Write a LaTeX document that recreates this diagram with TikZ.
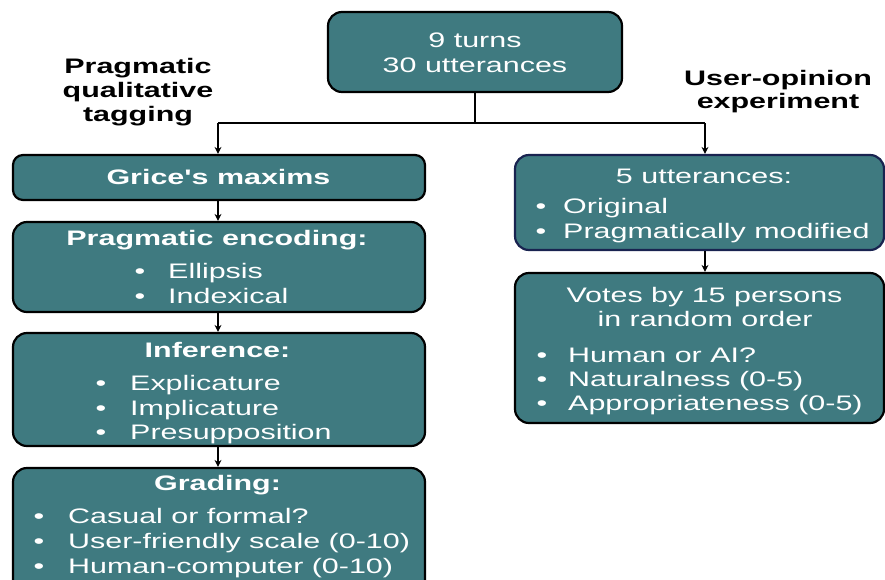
\documentclass[tikz,border=0pt]{standalone}
\usepackage{fontspec}
\usepackage{graphicx}
\setmainfont{Liberation Sans}
\usetikzlibrary{arrows.meta}
\definecolor{teal1}{RGB}{63,122,128}
\definecolor{navy1}{RGB}{25,35,80}
\newcommand{\sx}[1]{\scalebox{1.45}[1]{#1}}
\begin{document}
\begin{tikzpicture}[x=1pt,y=-1pt,
  box/.style={draw=black, line width=2.2pt, fill=teal1, rounded corners=14pt, inner sep=0pt},
  txt/.style={font=\fontsize{21}{25}\selectfont, text=white, inner sep=0pt},
  lbl/.style={font=\fontsize{21}{25}\selectfont\bfseries, text=black, inner sep=0pt},
  conn/.style={line width=2.2pt, draw=black},
  arr/.style={conn, -{Stealth[length=7pt,width=7pt]}}]
\useasboundingbox (0,0) rectangle (885,579);
% boxes
\node[box, minimum width=294pt, minimum height=80pt] (top) at (475,52) {};
\node[box, rounded corners=10pt, minimum width=412pt, minimum height=45pt] (grice) at (219,177.5) {};
\node[box, minimum width=412pt, minimum height=90pt] (enc) at (219,267) {};
\node[box, minimum width=412pt, minimum height=113pt] (inf) at (219,389.5) {};
\node[box, minimum width=412pt, minimum height=132pt] (grad) at (219,534) {};
\node[box, draw=navy1, minimum width=369pt, minimum height=95pt] (utt) at (699.5,202.5) {};
\node[box, minimum width=369pt, minimum height=150pt] (votes) at (699.5,348) {};
% connectors
\coordinate (j) at (475,123);
\coordinate (jl) at (218,123);
\coordinate (jr) at (705,123);
\draw[conn] (top.south -| j) -- (j);
\draw[conn] (jl) -- (jr);
\draw[arr] (jl) -- (jl |- grice.north);
\draw[arr] (jr) -- (jr |- utt.north);
\draw[arr] (grice.south -| jl) -- (enc.north -| jl);
\draw[arr] (enc.south -| jl) -- (inf.north -| jl);
\draw[arr] (inf.south -| jl) -- (grad.north -| jl);
\draw[arr] (utt.south -| jr) -- (votes.north -| jr);
% labels
\node[lbl, anchor=base] (l1) at (138,73) {\sx{Pragmatic}};
\node[lbl, anchor=base] (l2) at (138,97) {\sx{qualitative}};
\node[lbl, anchor=base] (l3) at (138,121) {\sx{tagging}};
\node[lbl, anchor=base] (r1) at (778,85) {\sx{User-opinion}};
\node[lbl, anchor=base] (r2) at (778,108) {\sx{experiment}};
% top text
\node[txt, anchor=base] (t1) at (475,47) {\sx{9 turns}};
\node[txt, anchor=base] (t2) at (475,72) {\sx{30 utterances}};
% Grice
\node[txt, anchor=base, font=\fontsize{21}{25}\selectfont\bfseries] (g1) at (218.5,184) {\sx{Grice\textquotesingle s maxims}};
% encoding
\node[txt, anchor=base, font=\fontsize{21}{25}\selectfont\bfseries] (e0) at (217,245) {\sx{Pragmatic encoding:}};
\node[txt, anchor=base] (eb1) at (140,278) {\sx{•}};
\node[txt, anchor=base west] (e1) at (168,278) {\sx{Ellipsis}};
\node[txt, anchor=base] (eb2) at (140,303) {\sx{•}};
\node[txt, anchor=base west] (e2) at (168,303) {\sx{Indexical}};
% inference
\node[txt, anchor=base, font=\fontsize{21}{25}\selectfont\bfseries] (i0) at (217.5,357) {\sx{Inference:}};
\node[txt, anchor=base] (ib1) at (101,390) {\sx{•}};
\node[txt, anchor=base west] (i1) at (130,390) {\sx{Explicature}};
\node[txt, anchor=base] (ib2) at (101,415) {\sx{•}};
\node[txt, anchor=base west] (i2) at (130,415) {\sx{Implicature}};
\node[txt, anchor=base] (ib3) at (101,439) {\sx{•}};
\node[txt, anchor=base west] (i3) at (130,439) {\sx{Presupposition}};
% grading
\node[txt, anchor=base, font=\fontsize{21}{25}\selectfont\bfseries] (d0) at (217.5,490) {\sx{Grading:}};
\node[txt, anchor=base] (db1) at (39,523) {\sx{•}};
\node[txt, anchor=base west] (d1) at (68,523) {\sx{Casual or formal?}};
\node[txt, anchor=base] (db2) at (39,548) {\sx{•}};
\node[txt, anchor=base west] (d2) at (68,548) {\sx{User-friendly scale (0-10)}};
\node[txt, anchor=base] (db3) at (39,573) {\sx{•}};
\node[txt, anchor=base west] (d3) at (68,573) {\sx{Human-computer (0-10)}};
% utterances
\node[txt, anchor=base] (u0) at (704,183) {\sx{5 utterances:}};
\node[txt, anchor=base] (ub1) at (541,213) {\sx{•}};
\node[txt, anchor=base west] (u1) at (563,213) {\sx{Original}};
\node[txt, anchor=base] (ub2) at (541,238) {\sx{•}};
\node[txt, anchor=base west] (u2) at (563,238) {\sx{Pragmatically modified}};
% votes
\node[txt, anchor=base] (v1) at (704.5,302) {\sx{Votes by 15 persons}};
\node[txt, anchor=base] (v2) at (705,326) {\sx{in random order}};
\node[txt, anchor=base] (vb1) at (542,362) {\sx{•}};
\node[txt, anchor=base west] (v3) at (568,362) {\sx{Human or AI?}};
\node[txt, anchor=base] (vb2) at (542,386) {\sx{•}};
\node[txt, anchor=base west] (v4) at (568,386) {\sx{Naturalness (0-5)}};
\node[txt, anchor=base] (vb3) at (542,410) {\sx{•}};
\node[txt, anchor=base west] (v5) at (568,410) {\sx{Appropriateness (0-5)}};
\end{tikzpicture}
\end{document}
